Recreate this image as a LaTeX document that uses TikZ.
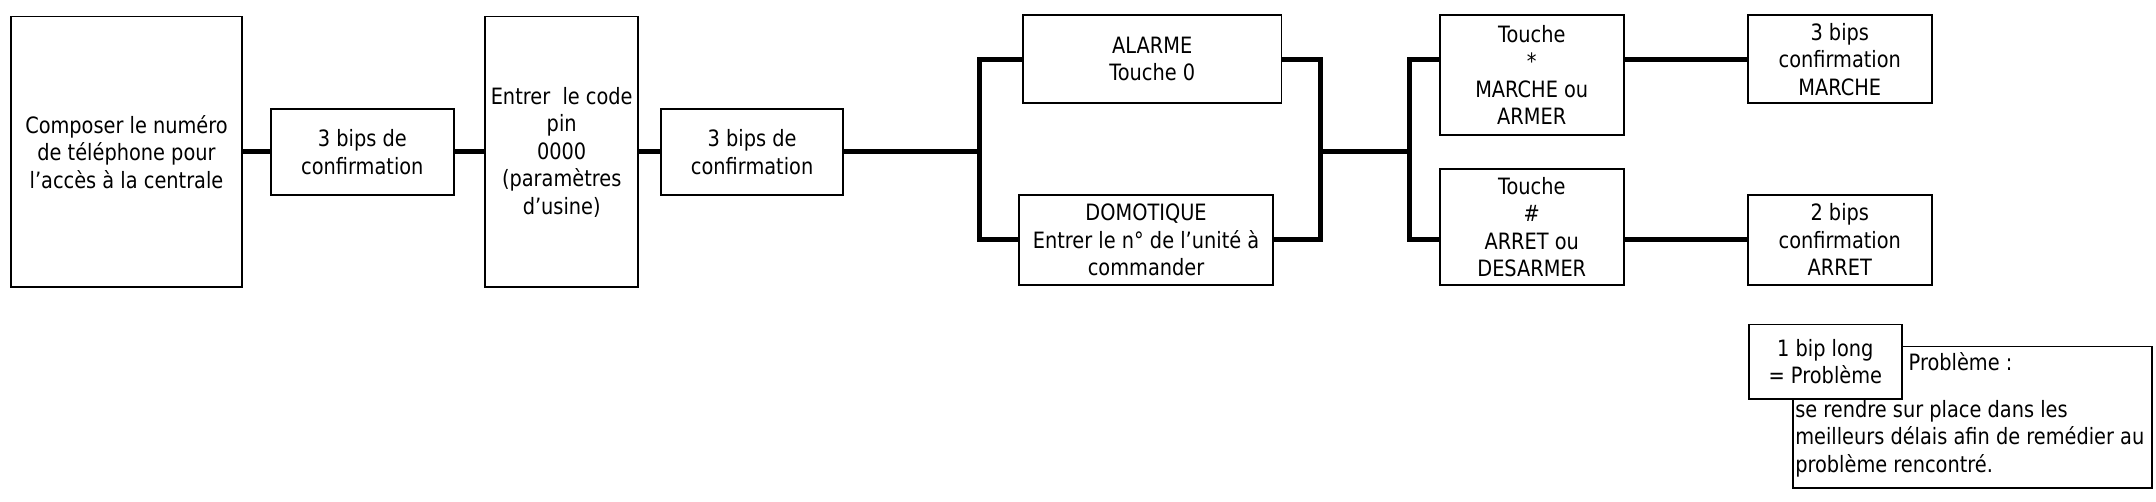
\documentclass[tikz,border=0pt]{standalone}
\usepackage{fontspec}
\setmainfont{DejaVu Sans}[FakeStretch=0.86]
\begin{document}
\begin{tikzpicture}[x=1.375pt,y=-1.375pt,
  bx/.style={draw,line width=1.8pt,fill=white,align=center,inner sep=0pt,font=\fontsize{22.5}{27.5}\selectfont},
  conn/.style={line width=5pt},
  txt/.style={inner sep=0pt,font=\fontsize{22.5}{27.5}\selectfont}]
\newcommand\bbox[6]{\pgfmathsetmacro\bw{(#4-#2)*1.375}\pgfmathsetmacro\bh{(#5-#3)*1.375}%
  \node[bx,minimum width=\bw pt,minimum height=\bh pt] (#1) at ({(#2+#4)/2},{(#3+#5)/2}) {#6};}
\useasboundingbox[fill=white] (0,0) rectangle (1568,364.4);
\bbox{b1}{8}{12}{176}{209}{Composer le numéro\\de téléphone pour\\l’accès à la centrale}
\bbox{b2}{197}{79}{330}{142}{3 bips de\\confirmation}
\bbox{b3}{353}{12}{464}{209}{Entrer\ \ le code\\pin\\0000\\(paramètres\\d’usine)}
\bbox{b4}{481}{79}{613}{142}{3 bips de\\confirmation}
\bbox{al}{744}{11}{932}{75}{ALARME\\Touche 0}
\bbox{dom}{741}{142}{926}{207}{DOMOTIQUE\\Entrer le n° de l’unité à\\commander}
\bbox{t1}{1047}{11}{1181}{98}{Touche\\*\\MARCHE ou\\ARMER}
\bbox{t2}{1047}{123}{1181}{207}{Touche\\\#\\ARRET ou\\DESARMER}
\bbox{c1}{1271}{11}{1405}{75}{3 bips\\confirmation\\MARCHE}
\bbox{c2}{1271}{142}{1405}{207}{2 bips\\confirmation\\ARRET}
\coordinate (L1) at (712,110.5);
\coordinate (R1) at (960,110.5);
\coordinate (L2) at (1025,110.5);
\draw[conn] (b1.east) -- (b2.west);
\draw[conn] (b2.east) -- (b3.west);
\draw[conn] (b3.east) -- (b4.west);
\draw[conn] (b4.east) -- (L1);
\draw[conn] (al.west) -| (L1) |- (dom.west);
\draw[conn] (al.east) -| (R1) |- (dom.east);
\draw[conn] (R1) -- (L2);
\draw[conn] (t1.west |- c1.west) -| (L2) |- (t2.west |- c2.west);
\draw[conn] (t1.east |- c1.west) -- (c1.west);
\draw[conn] (t2.east |- c2.west) -- (c2.west);
\bbox{pb}{1304}{252}{1565}{355}{}
\bbox{bl}{1272}{236}{1383}{290}{1 bip long\\= Problème}
\node[txt,anchor=west] (pt) at (1388,263) {Problème :};
\node[txt,anchor=north west,align=left] (pbody) at (1305.5,291) {se rendre sur place dans les\\meilleurs délais afin de remédier au\\problème rencontré.};
\end{tikzpicture}
\end{document}
